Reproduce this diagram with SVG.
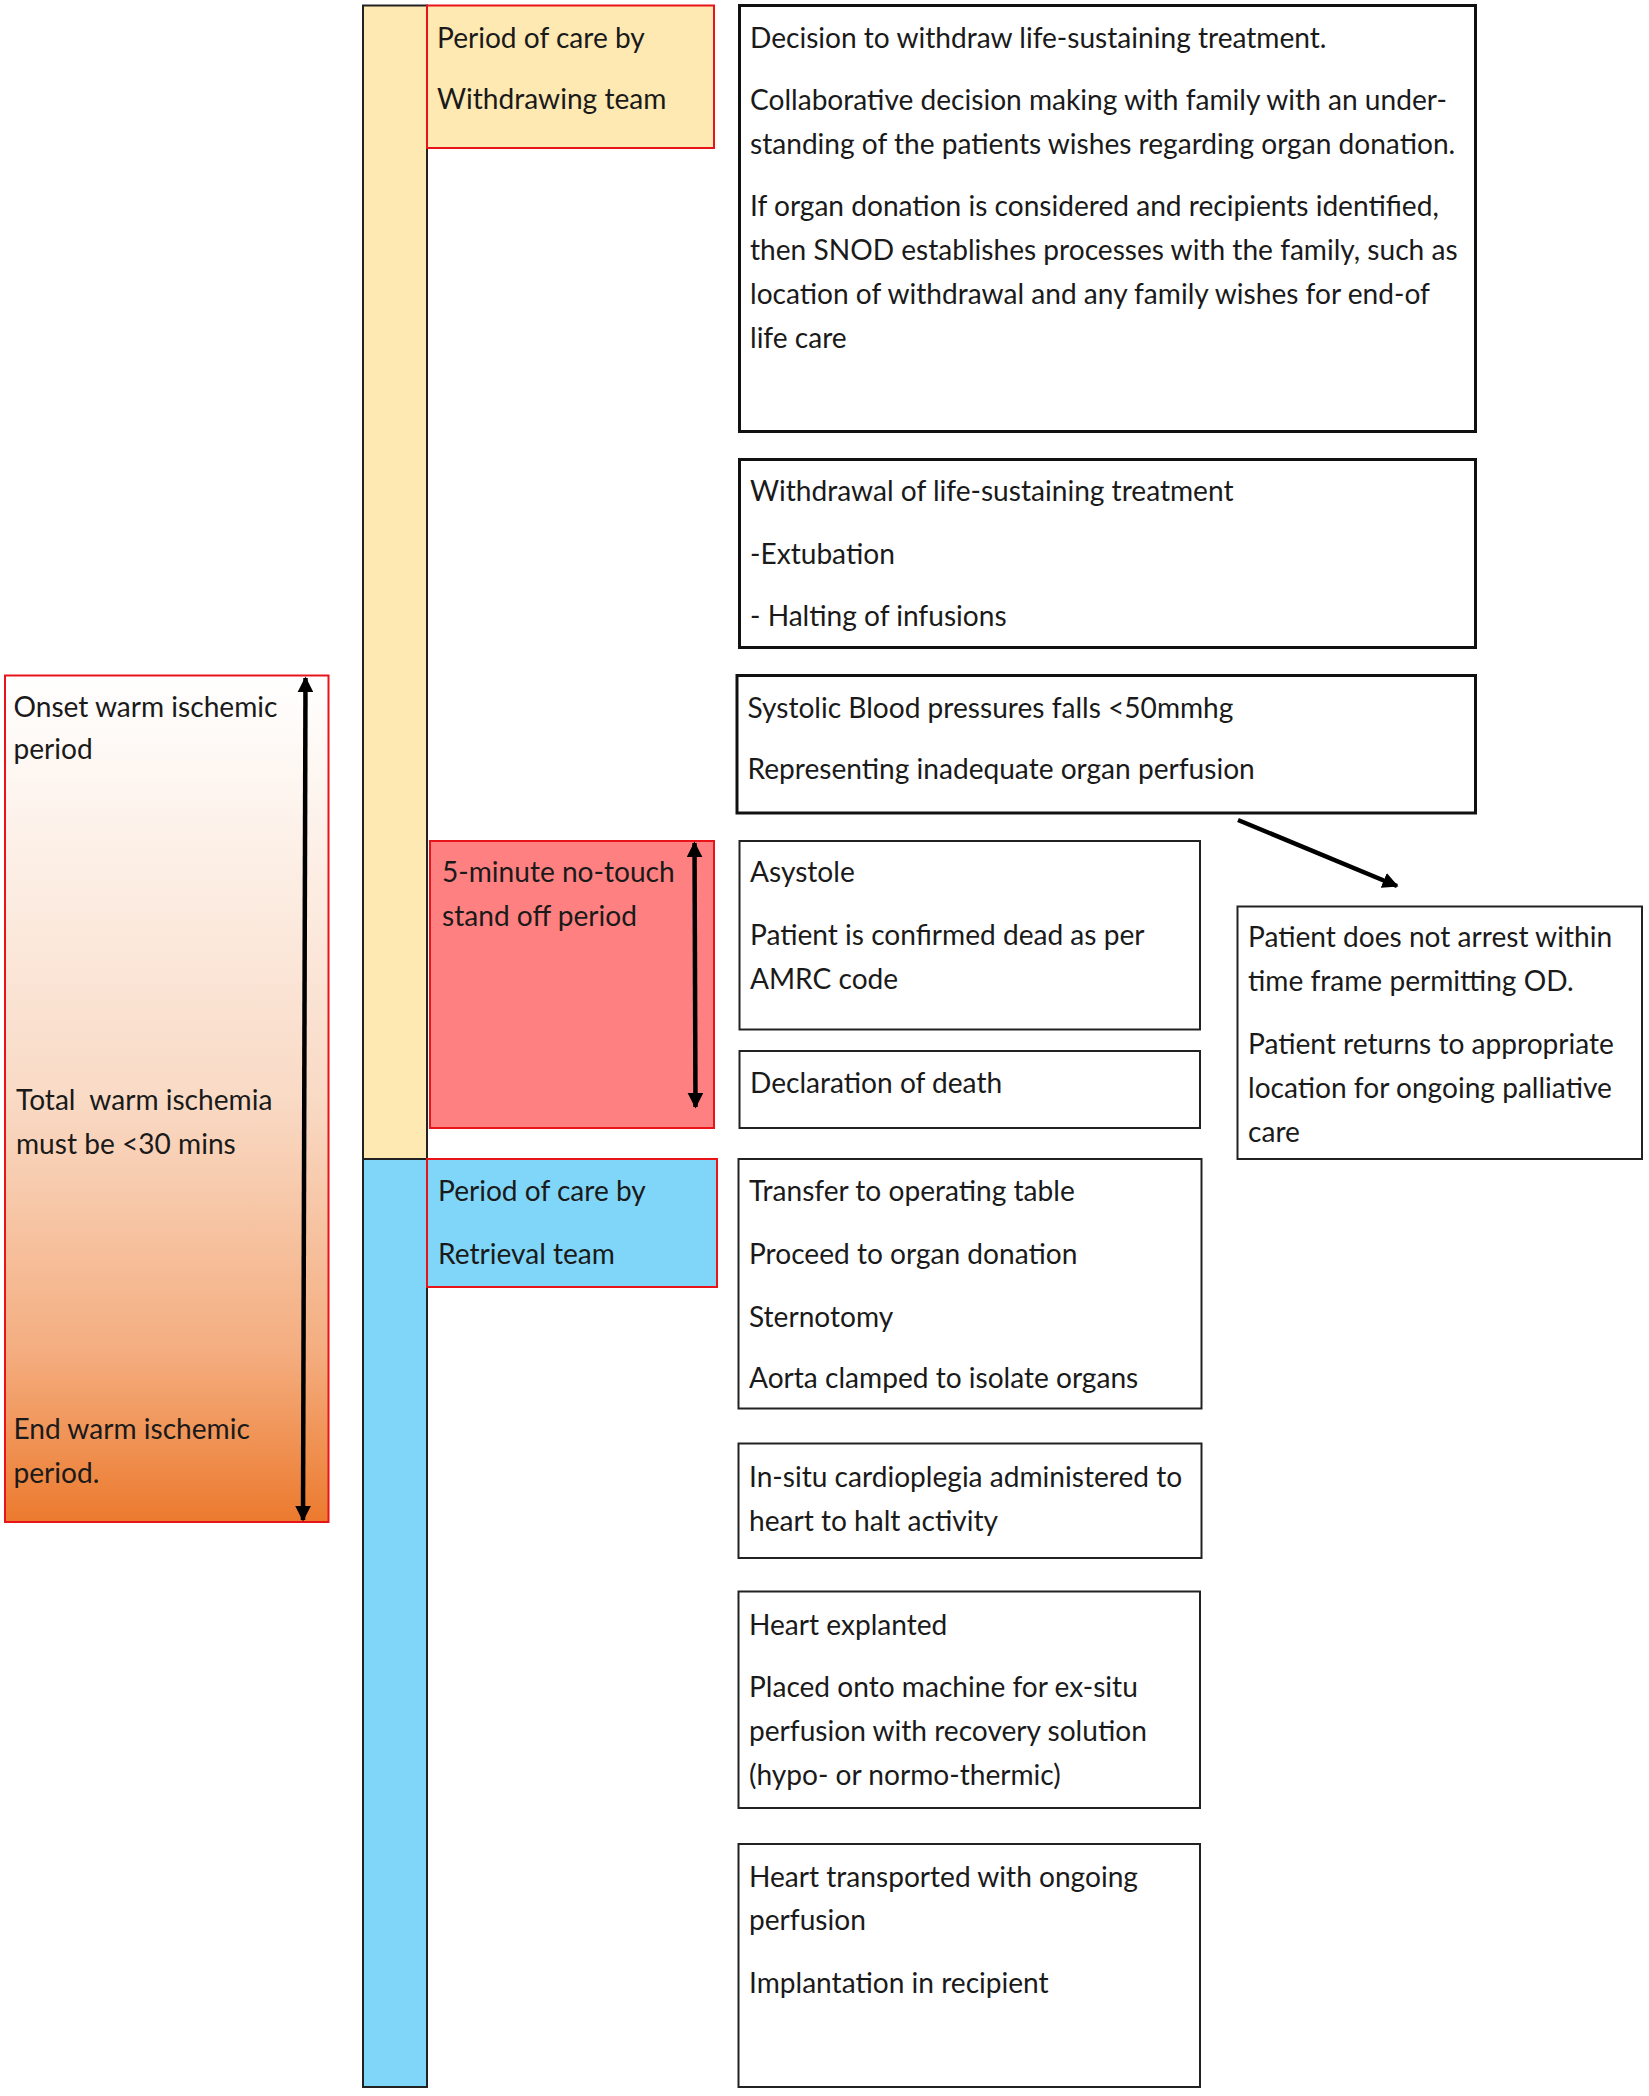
<svg xmlns="http://www.w3.org/2000/svg" width="1649" height="2096" viewBox="0 0 1649 2096">
<style>
text{font-family:Lato,"Open Sans","Liberation Sans",sans-serif;font-size:28.1px;fill:#1a1a1a}
.box{fill:#fff;stroke:#111;stroke-width:3}
.thin{fill:#fff;stroke:#222;stroke-width:2}
.lab{stroke:#e8141a;stroke-width:2}
.arr{stroke:#000;stroke-width:4.5;fill:none}
</style>
<defs>
<linearGradient id="warm" x1="0" y1="0" x2="0" y2="1">
<stop offset="0" stop-color="#ffffff"/>
<stop offset="0.5" stop-color="#f9dac5"/>
<stop offset="0.8" stop-color="#f4ad7f"/>
<stop offset="1" stop-color="#ec7a2e"/>
</linearGradient>
<marker id="ah" viewBox="0 0 10 10" refX="9" refY="5" markerWidth="16" markerHeight="16" markerUnits="userSpaceOnUse" orient="auto-start-reverse">
<path d="M0,0 L10,5 L0,10 z" fill="#000"/>
</marker>
</defs>

<g id="bar-withdrawing"><rect x="363" y="5.5" width="64" height="1153.5" fill="#fee9b2" stroke="#222" stroke-width="2"/></g>
<g id="bar-retrieval"><rect x="363" y="1159" width="64" height="928" fill="#7fd6f8" stroke="#222" stroke-width="2"/></g>

<g id="label-withdrawing">
<rect x="427" y="5.5" width="287" height="142.5" fill="#fee9b2" class="lab"/>
<text x="437" y="47.5">Period of care by</text>
<text x="437" y="108.5">Withdrawing team</text>
</g>

<g id="warm-ischemia">
<rect x="5" y="675.5" width="323.5" height="846.5" fill="url(#warm)" class="lab"/>
<text x="13.5" y="716.5">Onset warm ischemic</text>
<text x="13.5" y="759">period</text>
<text x="16" y="1110" xml:space="preserve">Total  warm ischemia</text>
<text x="16" y="1154">must be &lt;30 mins</text>
<text x="13.5" y="1438.5">End warm ischemic</text>
<text x="13.5" y="1482.5">period.</text>
</g>

<g id="decision">
<rect x="739.5" y="5.5" width="736" height="426" class="box"/>
<text x="750" y="47.5">Decision to withdraw life-sustaining treatment.</text>
<text x="750" y="110">Collaborative decision making with family with an under-</text>
<text x="750" y="154">standing of the patients wishes regarding organ donation.</text>
<text x="750" y="215.5">If organ donation is considered and recipients identified,</text>
<text x="750" y="259.5">then SNOD establishes processes with the family, such as</text>
<text x="750" y="303.5">location of withdrawal and any family wishes for end-of</text>
<text x="750" y="347.5">life care</text>
</g>

<g id="withdrawal">
<rect x="739.5" y="459.5" width="736" height="188" class="box"/>
<text x="750" y="501">Withdrawal of life-sustaining treatment</text>
<text x="750" y="564">-Extubation</text>
<text x="750" y="625.5">- Halting of infusions</text>
</g>

<g id="systolic">
<rect x="737" y="675.5" width="738.5" height="137.5" class="box"/>
<text x="747.5" y="717.5">Systolic Blood pressures falls &lt;50mmhg</text>
<text x="747.5" y="779">Representing inadequate organ perfusion</text>
</g>

<g id="no-arrest">
<rect x="1237.5" y="906.5" width="404.5" height="252.5" class="thin"/>
<text x="1248" y="947">Patient does not arrest within</text>
<text x="1248" y="991">time frame permitting OD.</text>
<text x="1248" y="1054">Patient returns to appropriate</text>
<text x="1248" y="1098">location for ongoing palliative</text>
<text x="1248" y="1142">care</text>
</g>

<g id="stand-off">
<rect x="430" y="841" width="284" height="287" fill="#ff8080" class="lab"/>
<text x="442" y="881.5">5-minute no-touch</text>
<text x="442" y="925.5">stand off period</text>
</g>

<g id="asystole">
<rect x="739.5" y="841" width="460.5" height="188.5" class="thin"/>
<text x="750" y="881.5">Asystole</text>
<text x="750" y="944.5">Patient is confirmed dead as per</text>
<text x="750" y="988.5">AMRC code</text>
</g>

<g id="declaration">
<rect x="739.5" y="1051" width="460.5" height="77" class="thin"/>
<text x="750" y="1092.5">Declaration of death</text>
</g>

<g id="label-retrieval">
<rect x="427" y="1159" width="290" height="128" fill="#7fd6f8" class="lab"/>
<text x="438" y="1200.5">Period of care by</text>
<text x="438" y="1263.5">Retrieval team</text>
</g>

<g id="transfer">
<rect x="738.5" y="1159" width="463" height="249.5" class="thin"/>
<text x="749" y="1200.5">Transfer to operating table</text>
<text x="749" y="1263.5">Proceed to organ donation</text>
<text x="749" y="1326.5">Sternotomy</text>
<text x="749" y="1387.5">Aorta clamped to isolate organs</text>
</g>

<g id="cardioplegia">
<rect x="738.5" y="1443.5" width="463" height="114.5" class="thin"/>
<text x="749" y="1486.5">In-situ cardioplegia administered to</text>
<text x="749" y="1530.5">heart to halt activity</text>
</g>

<g id="explanted">
<rect x="738.5" y="1591.5" width="461.5" height="216.5" class="thin"/>
<text x="749" y="1634.5">Heart explanted</text>
<text x="749" y="1696.5">Placed onto machine for ex-situ</text>
<text x="749" y="1740.5">perfusion with recovery solution</text>
<text x="749" y="1784.5">(hypo- or normo-thermic)</text>
</g>

<g id="transported">
<rect x="738.5" y="1844" width="461.5" height="243" class="thin"/>
<text x="749" y="1887">Heart transported with ongoing</text>
<text x="749" y="1930">perfusion</text>
<text x="749" y="1992.5">Implantation in recipient</text>
</g>

<g id="connectors">
<line x1="305.5" y1="678" x2="303" y2="1520" class="arr" marker-start="url(#ah)" marker-end="url(#ah)"/>
<line x1="694.5" y1="843" x2="695.5" y2="1107" class="arr" stroke-width="4" marker-start="url(#ah)" marker-end="url(#ah)"/>
<line x1="1238" y1="820" x2="1397" y2="886" class="arr" marker-end="url(#ah)"/>
</g>
</svg>
